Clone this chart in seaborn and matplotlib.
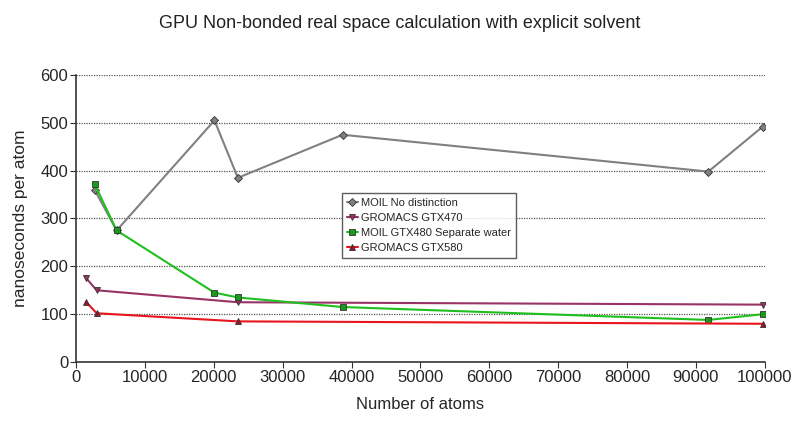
import pandas as pd
import matplotlib.pyplot as plt
import seaborn as sns

# === datos ===
moil_x = [2700, 5900, 20100, 23500, 38700, 91800, 99700]
moil_nodist = [360, 275, 505, 385, 475, 398, 492]
moil_gtx480 = [372, 275, 145, 135, 115, 88, 100]

gromacs_x = [1500, 3000, 23500, 99700]
gromacs_gtx470 = [175, 150, 125, 120]
gromacs_gtx580 = [125, 102, 85, 80]

series = [
    ("MOIL No distinction", moil_x, moil_nodist, "#808080", "#808080", "D", 4),
    ("GROMACS GTX470", gromacs_x, gromacs_gtx470, "#993366", "#993366", "v", 5),
    ("MOIL GTX480 Separate water", moil_x, moil_gtx480, "#1fbf1f", "#1a9a1a", "s", 5),
    ("GROMACS GTX580", gromacs_x, gromacs_gtx580, "#e8141e", "#99152a", "^", 5),
]

sns.set_style("white")
plt.rcParams['font.family'] = ['Liberation Sans', 'DejaVu Sans']

fig = plt.figure(figsize=(8, 4.21), dpi=100)
ax = fig.add_axes([0.095, 0.14, 0.861, 0.682])

for nombre, xs, ys, color_linea, color_marca, marca, tam in series:
    df = pd.DataFrame({"atoms": xs, "ns": ys})
    sns.lineplot(data=df, x="atoms", y="ns", ax=ax, color=color_linea,
                 linewidth=1.5, marker=marca, markersize=tam,
                 markerfacecolor=color_marca, markeredgecolor="#333333",
                 markeredgewidth=0.6, label=nombre)

ax.set_xlim(0, 100000)
ax.set_ylim(0, 600)
ax.set_xticks(range(0, 100001, 10000))
ax.set_yticks(range(0, 601, 100))
ax.yaxis.grid(True, linestyle=(0, (1, 1)), color="#555555", linewidth=0.9)
ax.xaxis.grid(False)
ax.tick_params(axis="both", labelsize=12, length=4, direction="out",
               bottom=True, left=True, color="#333333", pad=1.5)
for lado in ["top", "right"]:
    ax.spines[lado].set_visible(False)
for lado in ["left", "bottom"]:
    ax.spines[lado].set_color("#333333")
    ax.spines[lado].set_linewidth(1.2)

ax.set_xlabel("Number of atoms", fontsize=12, labelpad=9)
ax.set_ylabel("nanoseconds per atom", fontsize=12.5, labelpad=9)
fig.suptitle("GPU Non-bonded real space calculation with explicit solvent",
             fontsize=13, y=0.965, color="#222222")

leg = ax.legend(loc="upper left", bbox_to_anchor=(0.386, 0.589), fontsize=8,
                frameon=True, fancybox=False, edgecolor="#333333",
                handlelength=1.0, handletextpad=0.3, borderpad=0.45,
                labelspacing=0.45, borderaxespad=0)
leg.get_frame().set_linewidth(1.0)

plt.savefig("out.png", dpi=100)
plt.close()
